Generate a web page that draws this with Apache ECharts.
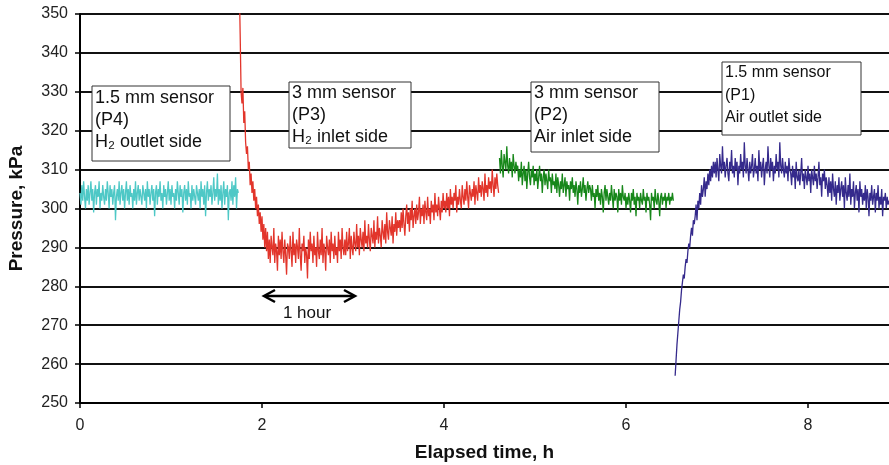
<!DOCTYPE html>
<html><head><meta charset="utf-8">
<script src="https://cdn.jsdelivr.net/npm/echarts@6/dist/echarts.min.js"></script>
<style>html,body{margin:0;padding:0;background:#fff}#c{width:889px;height:465px}</style>
</head><body><div id="c"></div>
<script>
// sample spacing (h) and series start times (h)
const step = 0.01;
const p4Start = 0.00, p3Start = 1.75, p2Start = 4.61, p1Start = 6.54;
// P4 (1.5 mm sensor, H2 outlet side) pressure, kPa
const p4Values = [
304,301,306,302,307,303,300,305,302,306,301,304,307,302,305,299,304,306,301,305,303,307,300,304,302,
306,303,301,305,302,307,304,300,306,303,305,301,304,306,297,303,305,302,307,301,304,306,302,305,300,
304,307,302,305,301,306,303,304,300,305,302,307,301,304,306,302,305,303,301,306,304,302,305,300,307,
303,305,301,304,306,302,305,298,304,306,301,305,303,307,302,304,300,306,303,305,301,304,307,302,305,
301,306,303,304,300,305,302,307,304,301,306,303,305,299,304,306,302,305,301,307,303,304,300,306,302,
305,303,301,306,304,302,305,300,307,303,305,301,306,298,304,307,302,305,303,306,301,304,308,302,305,
303,309,301,305,302,306,300,304,307,301,305,303,306,297,304,305,302,307,301,306,303,308,300,305,304];
// P3 (3 mm sensor, H2 inlet side)
const p3Values = [
358,345,330,327,331,322,325,317,314,316,310,312,306,309,304,307,302,305,300,303,298,301,296,299,294,298,292,296,290,295,
289,294,287,292,286,293,290,288,295,286,291,289,284,293,288,292,287,294,289,286,292,288,283,291,290,
287,293,289,285,294,288,291,286,292,290,287,295,288,284,291,289,293,286,290,288,282,292,287,294,289,
291,286,293,288,290,285,294,289,287,292,288,295,286,291,289,284,293,290,288,292,286,294,289,291,287,
293,288,290,286,294,289,292,287,295,290,288,
292,288,294,289,291,295,287,293,290,288,294,291,289,296,290,293,288,295,292,290,294,289,297,291,293,290,296,292,289,295,
293,291,297,290,294,292,298,291,295,293,290,297,294,292,296,291,299,294,292,297,295,293,298,291,296,294,299,293,297,295,
297,294,299,295,300,296,293,298,301,296,299,294,300,297,302,295,298,300,296,301,297,299,303,296,300,
298,301,296,302,299,297,303,298,300,296,302,299,301,297,304,299,301,298,303,300,297,302,299,304,300,
302,299,304,300,303,298,305,301,303,300,304,302,306,299,303,301,305,302,300,306,303,301,305,302,307,303,300,306,304,302,
305,303,307,301,306,304,302,308,304,306,303,307,305,302,309,304,306,303,308,305,307,304,310,306,303,308,305,309,306,304];
// P2 (3 mm sensor, Air inlet side)
const p2Values = [
313,309,315,311,308,314,312,310,316,311,309,313,310,312,308,314,311,309,312,310,
311,307,310,308,312,306,309,311,307,310,305,309,312,308,306,310,308,311,306,309,
307,310,305,308,311,307,309,304,308,310,306,309,307,305,310,307,308,304,309,306,
307,305,309,304,308,306,303,307,305,309,304,306,308,303,307,305,306,302,307,305,
308,304,306,303,307,305,301,306,304,307,303,305,308,304,306,302,305,307,304,306,
305,302,306,303,304,300,305,303,306,302,304,301,305,303,299,304,306,302,305,303,
301,304,302,306,303,300,305,302,304,303,299,305,302,304,301,306,303,302,304,300,
303,301,304,302,299,304,302,305,301,303,298,304,302,303,300,304,302,301,305,302,
303,299,304,302,303,301,297,304,302,303,300,305,302,301,304,302,298,303,304,301,
303,302,304,300,303,302,304,301,303,302,304,302];
// P1 (1.5 mm sensor, Air outlet side)
const p1Values = [
257,261,265,268,271,274,276,279,281,283,282,285,287,286,289,291,290,293,295,293,297,296,298,301,297,302,300,304,301,306,303,305,308,303,307,305,309,306,310,307,311,308,312,309,
312,308,313,310,307,314,311,309,316,310,312,308,311,313,309,307,312,310,315,309,311,308,313,310,312,
306,311,309,314,310,312,308,317,311,309,313,310,307,312,309,311,314,308,310,313,309,311,307,315,310,
312,308,311,313,306,310,312,309,316,311,308,313,310,312,307,311,309,314,310,312,308,317,311,309,313,
310,308,312,309,311,307,313,310,
309,306,311,308,310,305,312,308,307,310,306,309,313,307,309,305,310,308,306,311,
307,309,304,310,308,306,311,307,309,305,308,312,306,308,303,309,307,310,305,308,
306,303,308,304,307,302,309,305,303,307,301,306,304,308,302,305,307,303,306,300,
308,304,302,306,303,309,301,305,303,307,300,304,306,302,305,299,307,303,305,301,
304,302,306,300,305,303,298,304,302,306,301,303,305,299,304,302,306,300,303,301,
305,298,303,302,304,300,303,301,302];
const xTickLabels = [0, 2, 4, 6, 8];
const yTickValues = [250,260,270,280,290,300,310,320,330,340,350];

function toPairs(start, vals){ return vals.map((v,i)=>[+(start + i*step).toFixed(3), v]); }

const FONT = "'Liberation Sans', Arial, 'DejaVu Sans', sans-serif";
const chart = echarts.init(document.getElementById('c'), null, {renderer:'canvas'});

function mkSeries(name, start, vals, color, w){
  return {name, type:'line', data: toPairs(start, vals), showSymbol:false, symbol:'none',
    lineStyle:{color, width:w}, itemStyle:{color}, clip:true, animation:false, z:3};
}

function box(x, y, w, h, lines, fs, lh, firstY){
  const out = [{type:'rect', z:50, shape:{x:x,y:y,width:w,height:h},
    style:{fill:'#fff', stroke:'#333', lineWidth:1}}];
  lines.forEach((t,i)=>out.push({type:'text', z:51, style:{text:t, x:x+3, y:y+firstY + i*lh,
    font: fs+'px '+FONT, fill:'#111', verticalAlign:'middle', align:'left'}}));
  return out;
}

chart.setOption({
  animation:false,
  grid:{left:80, right:0, top:14, bottom:62, containLabel:false, outerBoundsMode:'none'},
  xAxis:{type:'value', min:0, max:8.89,
    name:'Elapsed time, h', nameLocation:'middle', nameGap:40,
    nameTextStyle:{fontFamily:FONT, fontSize:19, fontWeight:'bold', color:'#111'},
    axisLine:{show:true, onZero:false, lineStyle:{color:'#000', width:2}},
    axisTick:{show:true, length:5, lineStyle:{color:'#000', width:1.5}, customValues:xTickLabels},
    axisLabel:{fontFamily:FONT, fontSize:16, color:'#222', margin:15, customValues:xTickLabels},
    splitLine:{show:false}},
  yAxis:{type:'value', min:250, max:350, interval:10,
    name:'Pressure, kPa', nameLocation:'middle', nameGap:54, nameRotate:90,
    nameTextStyle:{fontFamily:FONT, fontSize:19, fontWeight:'bold', color:'#111'},
    axisLine:{show:true, lineStyle:{color:'#000', width:2}},
    axisTick:{show:true, length:5, lineStyle:{color:'#000', width:1.5}},
    axisLabel:{fontFamily:FONT, fontSize:16, color:'#222', margin:12, customValues:yTickValues},
    splitLine:{show:true, lineStyle:{color:'#111', width:2}}},
  series:[
    mkSeries('P4', p4Start, p4Values, '#4EC8C6', 1.3),
    mkSeries('P3', p3Start, p3Values, '#E2352B', 1.3),
    mkSeries('P2', p2Start, p2Values, '#17871A', 1.3),
    mkSeries('P1', p1Start, p1Values, '#352A8C', 1.3)
  ],
  graphic:[].concat(
    box(92, 86, 138, 75, ['1.5 mm sensor','(P4)','H\u2082 outlet side'], 18, 22, 12),
    box(289, 82, 122, 66, ['3 mm sensor','(P3)','H\u2082 inlet side'], 18, 22, 11),
    box(531, 82, 128, 70, ['3 mm sensor','(P2)','Air inlet side'], 18, 22, 11),
    box(722, 62, 139, 73, ['1.5 mm sensor','(P1)','Air outlet side'], 16, 22.5, 11),
    [
    {type:'polyline', z:50, shape:{points:[[265,296],[354,296]]}, style:{stroke:'#000', lineWidth:2.5}},
    {type:'polyline', z:50, shape:{points:[[275,290],[264,296],[275,302]]}, style:{stroke:'#000', lineWidth:2.5, fill:null}},
    {type:'polyline', z:50, shape:{points:[[344,290],[355,296],[344,302]]}, style:{stroke:'#000', lineWidth:2.5, fill:null}},
    {type:'text', z:50, style:{text:'1 hour', x:307, y:313, font:'17px '+FONT, fill:'#111', align:'center', verticalAlign:'middle'}}
    ])
});
</script></body></html>
